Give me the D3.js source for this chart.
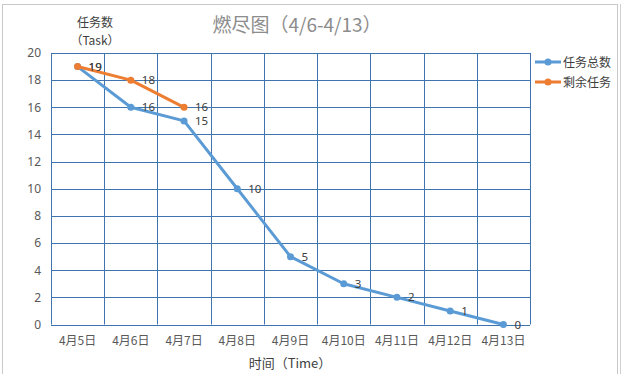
<!DOCTYPE html>
<html><head><meta charset="utf-8">
<script src="https://cdn.jsdelivr.net/npm/d3@7/dist/d3.min.js"></script>
<style>body{margin:0;background:#fff}svg{display:block}text{font-family:"Noto Sans CJK SC","Microsoft YaHei",sans-serif}</style>
</head><body><svg id="c" width="621" height="374"></svg>
<script>
const categories = ["4月5日","4月6日","4月7日","4月8日","4月9日","4月10日","4月11日","4月12日","4月13日"];
const totalTasks = [19,16,15,10,5,3,2,1,0];
const remainingTasks = [19,18,16];
const yTicks = [0,2,4,6,8,10,12,14,16,18,20];
const seriesNames = ["任务总数","剩余任务"];
const colors = ["#5B9BD5","#ED7D31"];

const svg = d3.select("#c");
svg.append("rect").attr("x",2.5).attr("y",4.5).attr("width",615).attr("height",372).attr("fill","#fff").attr("stroke","#c8c8c8");
svg.append("line").attr("x1",620.5).attr("x2",620.5).attr("y1",4).attr("y2",374).attr("stroke","#d0d0d0");

const L=51, R=530, T=53, B=324.5;
const x = d3.scaleBand().domain(categories).range([L,R]);
const y = d3.scaleLinear().domain([0,20]).range([B,T]);
const gridColor = "#3F74AE";

const g = svg.append("g");
g.selectAll(".hg").data(yTicks).join("line")
  .attr("x1",L).attr("x2",R).attr("y1",d=>Math.round(y(d))+0.5).attr("y2",d=>Math.round(y(d))+0.5)
  .attr("stroke",gridColor).attr("stroke-width",1);
const bounds = categories.map(c=>x(c)).concat([R]);
g.selectAll(".vg").data(bounds).join("line")
  .attr("x1",d=>Math.round(d)+0.5).attr("x2",d=>Math.round(d)+0.5).attr("y1",T).attr("y2",B)
  .attr("stroke",gridColor).attr("stroke-width",1);

const yAxis = d3.axisLeft(y).tickValues(yTicks).tickSize(0).tickPadding(10);
const ya = svg.append("g").attr("transform",`translate(${L},0)`).call(yAxis);
ya.select(".domain").remove();
ya.selectAll("text").attr("fill","#595959").style("font-size","12px").style("font-family","Noto Sans, sans-serif");

const xAxis = d3.axisBottom(x).tickSize(0).tickPadding(12);
const xa = svg.append("g").attr("transform",`translate(0,${B})`).call(xAxis);
xa.select(".domain").remove();
xa.selectAll("text").attr("fill","#595959").style("font-size","12px");

const cx = d => x(d)+x.bandwidth()/2;
const line = d3.line().x((d,i)=>cx(categories[i])).y(d=>y(d));
[totalTasks, remainingTasks].forEach((data,si)=>{
  svg.append("path").datum(data).attr("d",line).attr("fill","none")
    .attr("stroke",colors[si]).attr("stroke-width",3).attr("stroke-linejoin","round");
  svg.selectAll(".pt"+si).data(data).join("circle")
    .attr("cx",(d,i)=>cx(categories[i])).attr("cy",d=>y(d)).attr("r",3.5).attr("fill",colors[si]);
  svg.selectAll(".lb"+si).data(data).join("text")
    .attr("x",(d,i)=>cx(categories[i])+11).attr("y",d=>y(d)+4)
    .attr("fill","#404040").style("font-size","11.5px").style("font-family","Noto Sans, sans-serif")
    .text(d=>d);
});

svg.append("text").attr("x",297).attr("y",32).attr("text-anchor","middle").attr("fill","#8c8c8c")
  .style("font-size","19px").text("燃尽图（4/6-4/13）");
svg.append("text").attr("x",95).attr("y",27).attr("text-anchor","middle").attr("fill","#404040")
  .style("font-size","12px").text("任务数");
svg.append("text").attr("x",95).attr("y",45).attr("text-anchor","middle").attr("fill","#404040")
  .style("font-size","12px").text("（Task）");
svg.append("text").attr("x",290).attr("y",368).attr("text-anchor","middle").attr("fill","#404040")
  .style("font-size","13px").text("时间（Time）");

seriesNames.forEach((n,i)=>{
  const ly = 62 + i*20;
  svg.append("line").attr("x1",535).attr("x2",561).attr("y1",ly).attr("y2",ly).attr("stroke",colors[i]).attr("stroke-width",3);
  svg.append("circle").attr("cx",548).attr("cy",ly).attr("r",3.5).attr("fill",colors[i]);
  svg.append("text").attr("x",563).attr("y",ly+4.5).attr("fill","#404040").style("font-size","12px").text(n);
});
</script></body></html>
